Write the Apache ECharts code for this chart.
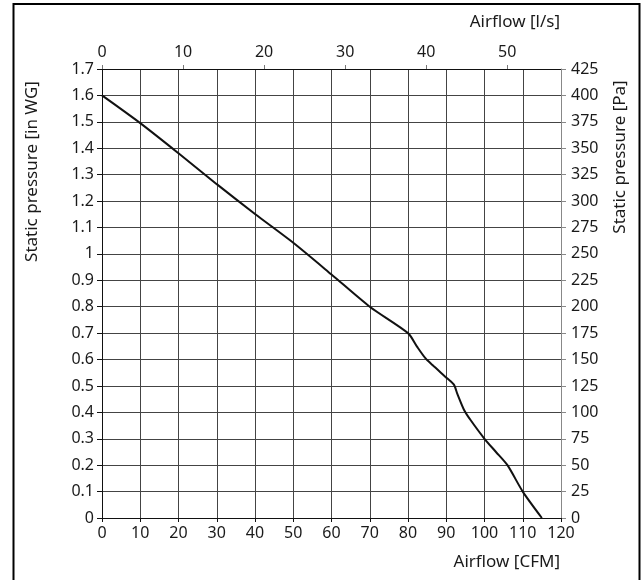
<!DOCTYPE html>
<html>
<head>
<meta charset="utf-8">
<script src="https://cdn.jsdelivr.net/npm/echarts@6/dist/echarts.min.js"></script>
<style>
html,body{margin:0;padding:0;background:#fff;}
#chart{width:644px;height:580px;}
</style>
</head>
<body>
<div id="chart"></div>
<script>
// Airflow in CFM (bottom axis)
var airflowCFM = [0, 10, 20, 30, 40, 50, 60, 70, 80, 82.4, 84.6, 86.4, 90.3, 92, 92.9, 94.7, 96.4, 100, 103, 106, 110, 115];
// Static pressure in inches WG (left axis)
var pressureInWG = [1.6, 1.495, 1.381, 1.264, 1.151, 1.042, 0.922, 0.80, 0.70, 0.648, 0.604, 0.579, 0.528, 0.505, 0.47, 0.408, 0.37, 0.30, 0.25, 0.20, 0.10, 0.0];

var cfmMax = 120;
var lsPerCFM = 0.4719; // 1 CFM = 0.4719 l/s
var inWGMax = 1.7;
var paMax = 425;

var fontFam = '"Noto Sans", "Open Sans", sans-serif';
var txt = '#1a1a1a';

var seriesData = airflowCFM.map(function (x, i) { return [x, pressureInWG[i]]; });

var chart = echarts.init(document.getElementById('chart'), null, {renderer: 'canvas'});
chart.setOption({
  animation: false,
  backgroundColor: '#fff',
  grid: {left: 102, right: 83, top: 69, bottom: 62, containLabel: false},
  xAxis: [{
    type: 'value', position: 'bottom', min: 0, max: cfmMax, interval: 10,
    axisLine: {show: true, onZero: false, lineStyle: {color: '#111', width: 1}},
    axisTick: {show: true, inside: false, length: 4, lineStyle: {color: '#111'}},
    axisLabel: {color: txt, fontSize: 16, fontFamily: fontFam, margin: 7},
    splitLine: {show: true, lineStyle: {color: '#444', width: 1}}
  }, {
    type: 'value', position: 'top', min: 0, max: cfmMax * lsPerCFM, interval: 10,
    axisLine: {show: true, onZero: false, lineStyle: {color: '#111', width: 1}},
    axisTick: {show: true, inside: false, length: 4, lineStyle: {color: '#777'}},
    axisLabel: {color: txt, fontSize: 16, fontFamily: fontFam, margin: 9, showMaxLabel: false},
    splitLine: {show: false}
  }],
  yAxis: [{
    type: 'value', position: 'left', min: 0, max: inWGMax, interval: 0.1,
    axisLine: {show: true, onZero: false, lineStyle: {color: '#111', width: 1}},
    axisTick: {show: true, inside: false, length: 5, lineStyle: {color: '#111'}},
    axisLabel: {color: txt, fontSize: 16, fontFamily: fontFam, margin: 8},
    splitLine: {show: true, lineStyle: {color: '#444', width: 1}}
  }, {
    type: 'value', position: 'right', min: 0, max: paMax, interval: 25,
    axisLine: {show: true, onZero: false, lineStyle: {color: '#888', width: 1}},
    axisTick: {show: true, inside: false, length: 5, lineStyle: {color: '#888'}},
    axisLabel: {color: txt, fontSize: 16, fontFamily: fontFam, margin: 10},
    splitLine: {show: false}
  }],
  series: [{
    type: 'line', xAxisIndex: 0, yAxisIndex: 0,
    data: seriesData, showSymbol: false, smooth: 0.25,
    lineStyle: {color: '#111', width: 2}
  }],
  graphic: [
    {type: 'rect', silent: true, z: 100,
     shape: {x: 13.5, y: 4, width: 626, height: 590},
     style: {fill: 'none', stroke: '#000', lineWidth: 2}},
    {type: 'text', x: 32.5, y: 171.5, rotation: Math.PI / 2,
     style: {text: 'Static pressure [in WG]', fill: txt, font: '17px ' + fontFam, textAlign: 'center', textVerticalAlign: 'middle'}},
    {type: 'text', x: 620, y: 157, rotation: Math.PI / 2,
     style: {text: 'Static pressure [Pa]', fill: txt, font: '17px ' + fontFam, textAlign: 'center', textVerticalAlign: 'middle'}},
    {type: 'text', x: 560, y: 22,
     style: {text: 'Airflow [l/s]', fill: txt, font: '17px ' + fontFam, textAlign: 'right', textVerticalAlign: 'middle'}},
    {type: 'text', x: 560, y: 562,
     style: {text: 'Airflow [CFM]', fill: txt, font: '17px ' + fontFam, textAlign: 'right', textVerticalAlign: 'middle'}}
  ]
});
</script>
</body>
</html>
